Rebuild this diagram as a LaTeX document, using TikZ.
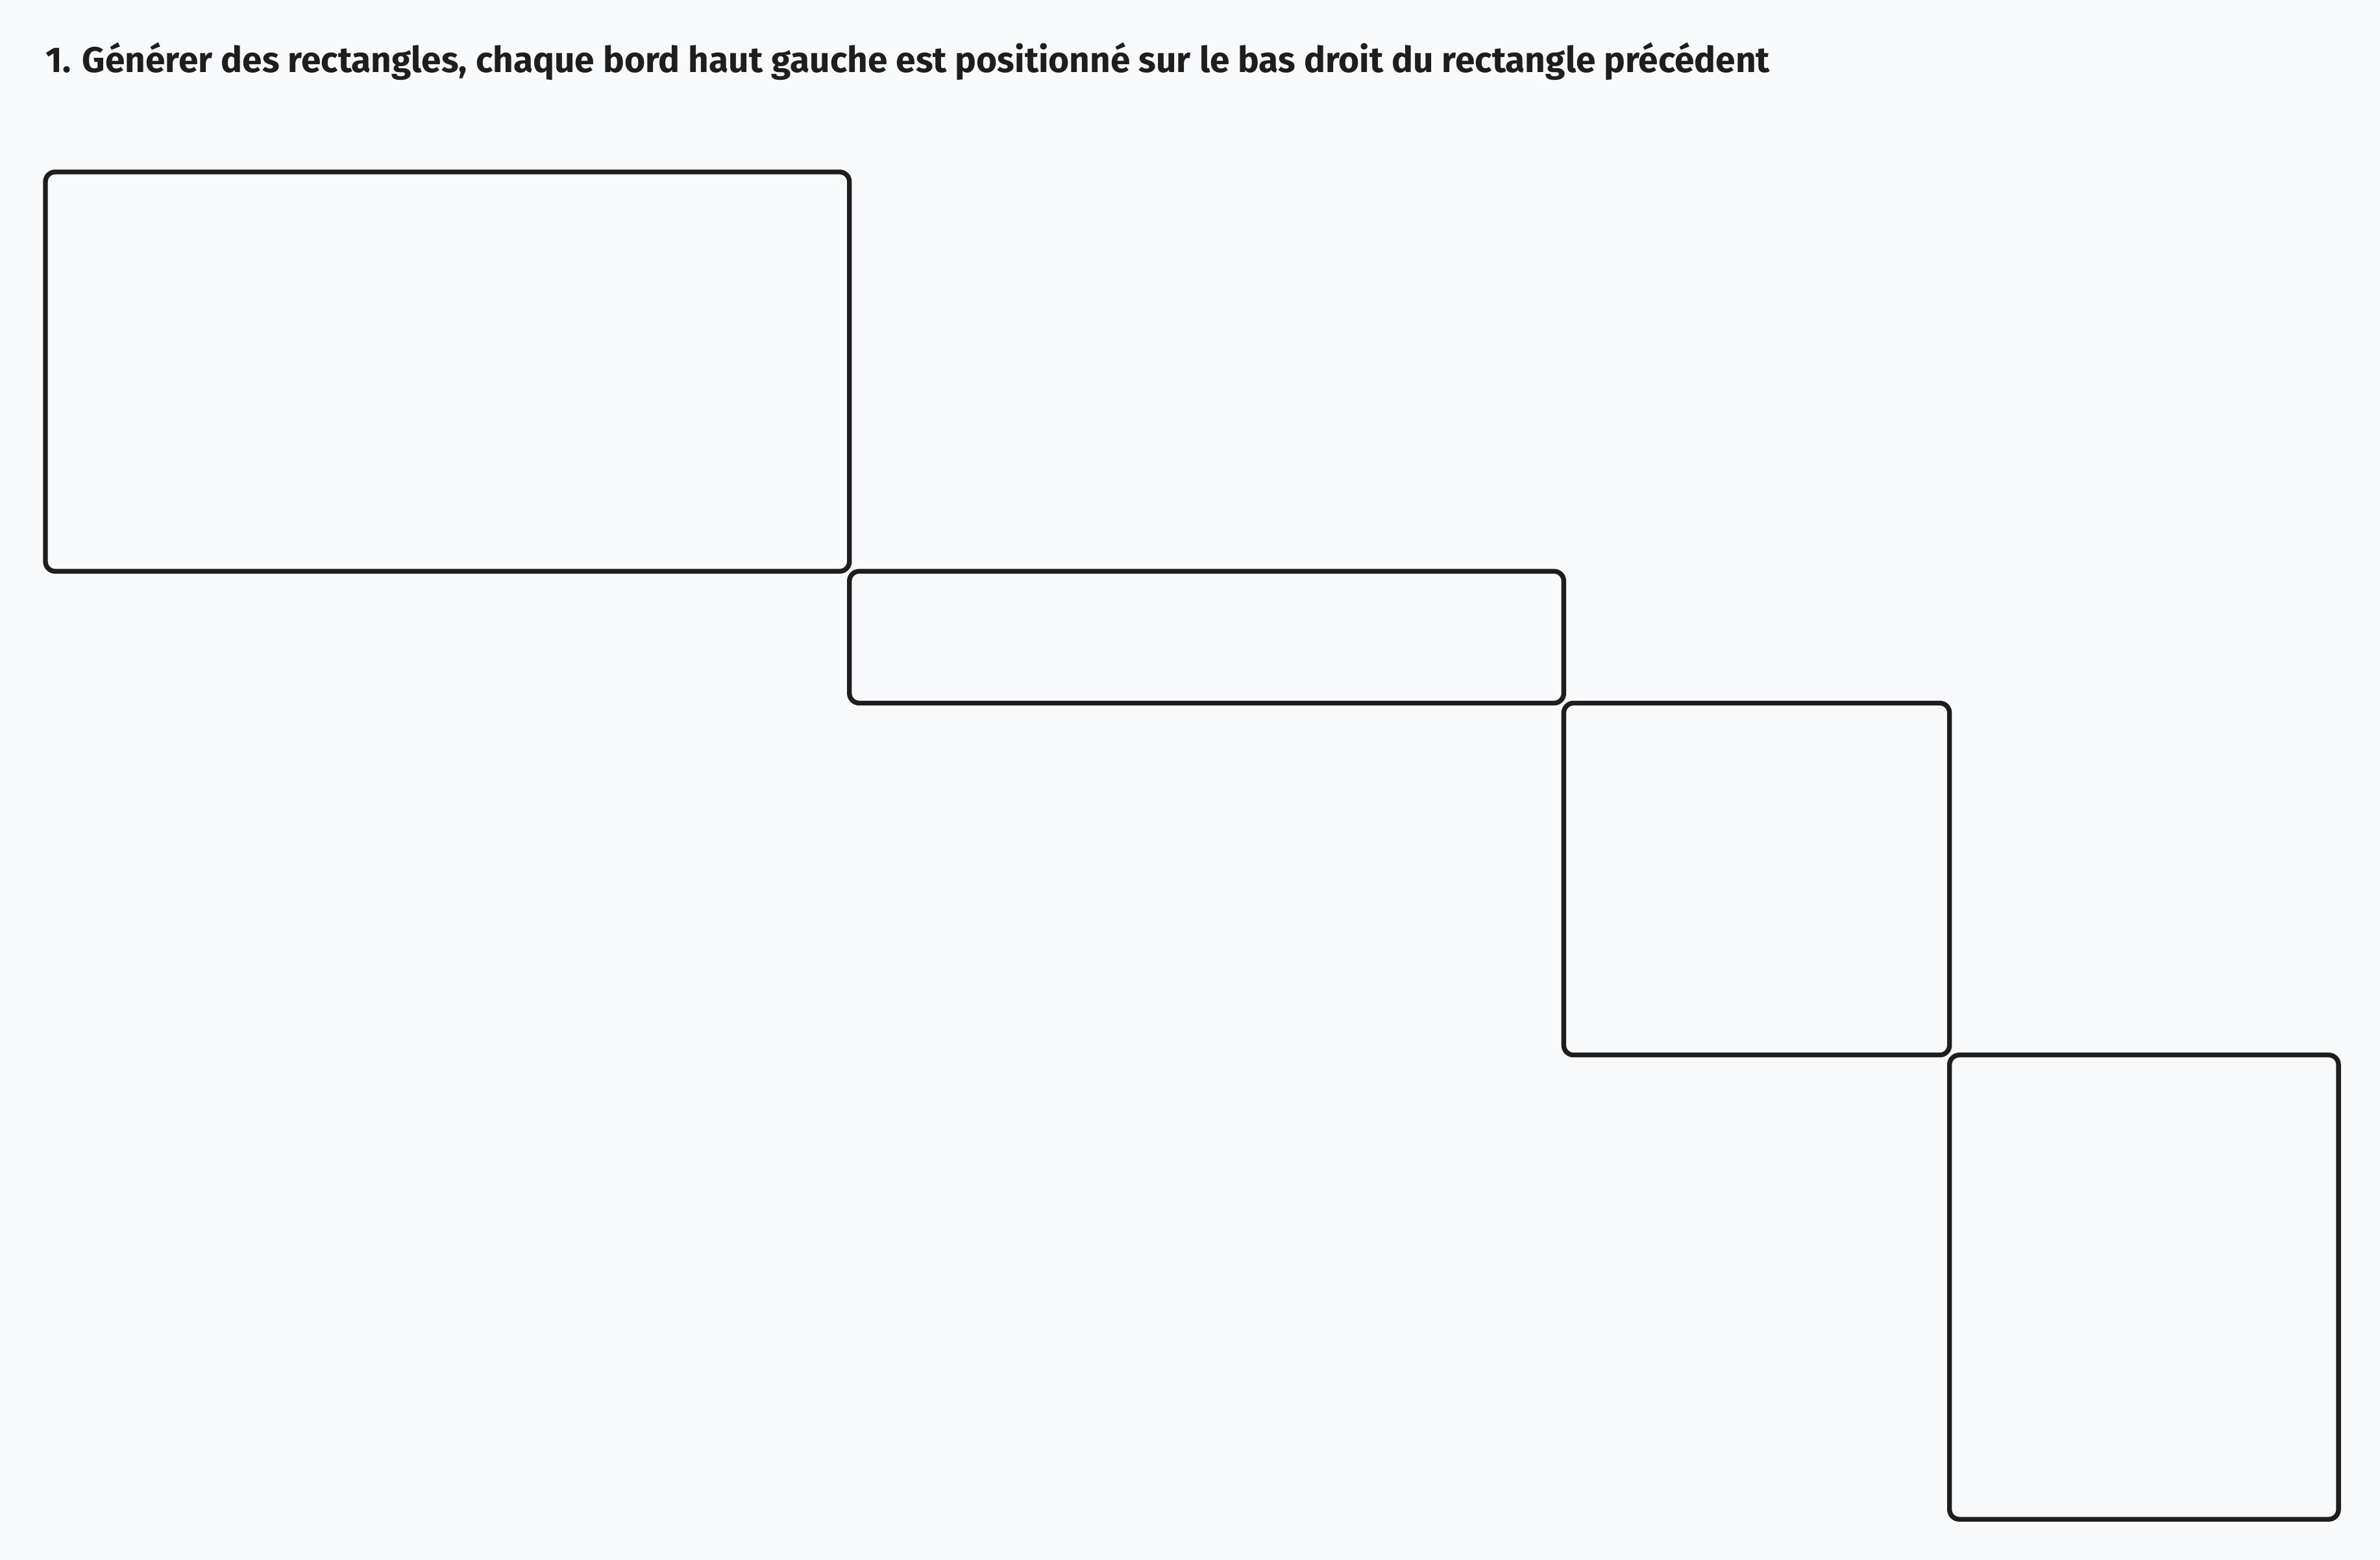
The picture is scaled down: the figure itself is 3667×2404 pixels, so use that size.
\documentclass[tikz,border=0pt]{standalone}
\usepackage{fontspec}
\setmainfont{Fira Sans}
\usepackage{xcolor}
\usetikzlibrary{positioning}
\definecolor{ink}{HTML}{1E1E1E}
\definecolor{paper}{HTML}{F8F9FA}

\begin{document}
\begin{tikzpicture}[x=0.01cm, y=-0.01cm,
	box/.style={draw=ink, line width=2.1pt, rounded corners=0.15cm, inner sep=0pt, outer sep=0pt, anchor=north west},
	title/.style={anchor=base west, text=ink, inner sep=0pt, font=\bfseries\fontsize{15.65}{18}\selectfont}]
	\fill[paper] (0,0) rectangle (3667,2404);
	\useasboundingbox (0,0) rectangle (3667,2404);
	% title
	\node[title] (TITLE) at (70,112) {1. Générer des rectangles, chaque bord haut gauche est positionné sur le bas droit du rectangle précédent};
	% each box starts at the bottom right corner of the one before
	\node[box, minimum width=12.38cm, minimum height=6.15cm] (R1) at (70,265) {};
	\node[box, minimum width=11.00cm, minimum height=2.03cm] (R2) at (R1.south east) {};
	\node[box, minimum width=5.94cm, minimum height=5.42cm] (R3) at (R2.south east) {};
	\node[box, minimum width=5.99cm, minimum height=7.15cm] (R4) at (R3.south east) {};
\end{tikzpicture}
\end{document}
